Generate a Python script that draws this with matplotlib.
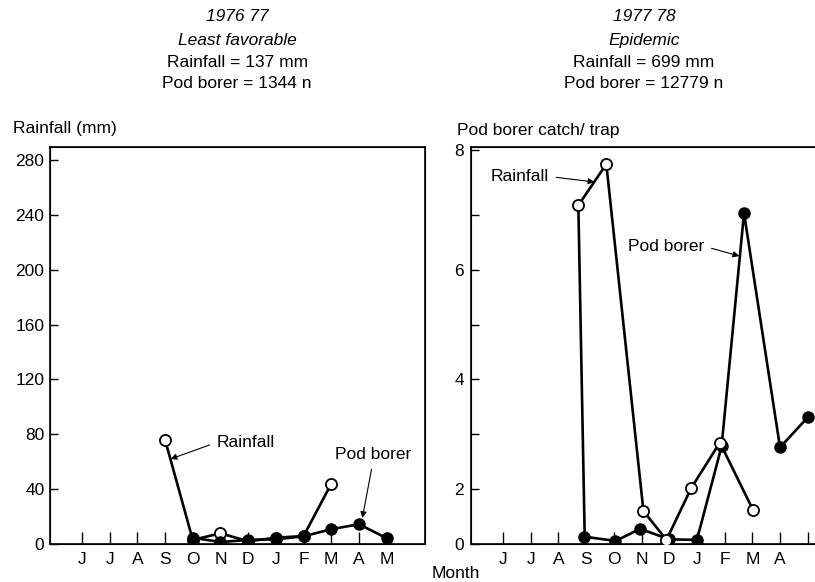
import numpy as np
import matplotlib
matplotlib.use('Agg')
import matplotlib.pyplot as plt

plt.rcParams['font.family'] = ['Liberation Sans', 'DejaVu Sans']
plt.rcParams['font.size'] = 12.5

months = ['J', 'J', 'A', 'S', 'O', 'N', 'D', 'J', 'F', 'M', 'A', 'M']

# 1976-77, least favorable (x = month index from June)
rain_76_idx = [3, 4, 5, 6, 7, 8, 9]
rain_76 = [76, 3, 7.8, 2, 4.6, 5.8, 44]
pod_76_idx = [4, 5, 6, 7, 8, 9, 10, 11]
pod_76 = [0.23, 0.07, 0.15, 0.17, 0.28, 0.54, 0.72, 0.21]

# 1977-78, epidemic (points are drawn a little off the month ticks in the original)
rain_77_idx = [2.95, 2.72, 3.73, 5.07, 5.9, 6.8, 7.83, 9.02]
rain_77 = [5, 247, 277, 24, 3, 41, 74, 25]
pod_77_idx = [2.92, 4.06, 4.95, 6.01, 7.0, 7.89, 8.7, 10, 11]
pod_77 = [0.27, 0.11, 0.55, 0.17, 0.15, 2.78, 6.95, 2.76, 3.31]

# the printed catch/trap axis is not linear against the mm axis
catch_knots = [0, 2, 4, 6, 8, 10]
mm_knots = [0, 40, 120, 200, 287, 374]

headers_76 = ['1976 77', 'Least favorable', 'Rainfall = 137 mm', 'Pod borer = 1344 n']
headers_77 = ['1977 78', 'Epidemic', 'Rainfall = 699 mm', 'Pod borer = 12779 n']


def catch_fwd(v):
    return np.interp(v, catch_knots, mm_knots)


def catch_inv(v):
    return np.interp(v, mm_knots, catch_knots)


MM_TOP = 289.5
XLIM = (-1.155, 12.38)
open_style = dict(color='black', marker='o', mfc='white', mec='black', ms=8, mew=1.3, lw=1.9)
fill_style = dict(color='black', marker='o', mfc='black', mec='black', ms=8, mew=1.0, lw=1.9)
arrow = dict(arrowstyle='-|>', color='black', lw=0.8, mutation_scale=9, shrinkA=3, shrinkB=0)

fig = plt.figure(figsize=(8.15, 5.82), dpi=100)

# ---- left panel ----
ax1 = fig.add_axes([0.0613, 0.0653, 0.4601, 0.6821])
ax1.plot(rain_76_idx, rain_76, zorder=3, **open_style)
ax1.set_xlim(*XLIM)
ax1.set_ylim(0, MM_TOP)
ax1.set_yticks(range(0, 281, 40))
ax1.set_xticks(range(12))
ax1.set_xticklabels(months)
ax1.tick_params(axis='x', direction='in', length=9, width=1.0, pad=6)
ax1.tick_params(axis='y', direction='in', length=6, width=1.0, pad=4)
for s in ax1.spines.values():
    s.set_linewidth(1.2)

tw1 = ax1.twinx()
tw1.set_yscale('function', functions=(catch_fwd, catch_inv))
tw1.set_ylim(0, catch_inv(MM_TOP))
tw1.plot(pod_76_idx, pod_76, zorder=3, **fill_style)
tw1.yaxis.set_visible(False)

ax1.annotate('Rainfall', xy=(3.2, 62), xytext=(4.85, 74), ha='left', va='center',
             arrowprops=dict(relpos=(0, 0.5), **arrow))
ax1.annotate('Pod borer', xy=(10.12, 19), xytext=(10.5, 65), ha='center', va='center',
             arrowprops=dict(relpos=(0.5, 0), **arrow))

# ---- right panel ----
ax2 = fig.add_axes([0.5779, 0.0653, 0.4601, 0.6821])
ax2.set_yscale('function', functions=(catch_fwd, catch_inv))
ax2.set_ylim(0, catch_inv(MM_TOP))
ax2.plot(pod_77_idx, pod_77, zorder=3, **fill_style)
ax2.set_xlim(*XLIM)
ax2.set_yticks([0, 2, 4, 6, 8])
ax2.set_yticklabels(['0', '2', '4', '6', '8'])
ax2.yaxis.set_minor_locator(matplotlib.ticker.NullLocator())
ax2.set_xticks(range(12))
ax2.set_xticklabels(months[:11] + [''])
ax2.tick_params(axis='x', direction='in', length=9, width=1.0, pad=6)
ax2.tick_params(axis='y', direction='in', length=6, width=1.0, pad=5)
for s in ax2.spines.values():
    s.set_linewidth(1.2)

tw2 = ax2.twinx()
tw2.set_ylim(0, MM_TOP)
# first rainfall vertex sits under the September pod borer dot, so no marker there
tw2.plot(rain_77_idx, rain_77, zorder=3, markevery=list(range(1, len(rain_77))), **open_style)
tw2.yaxis.tick_left()
tw2.set_yticks([80, 160, 240])
tw2.set_yticklabels([])
tw2.tick_params(axis='y', direction='in', length=6, width=1.0)

tw2.annotate('Rainfall', xy=(3.3, 264), xytext=(-0.43, 268), ha='left', va='center',
             arrowprops=dict(relpos=(1, 0.5), **arrow))
tw2.annotate('Pod borer', xy=(8.53, 210), xytext=(4.53, 217), ha='left', va='center',
             arrowprops=dict(relpos=(1, 0.5), **arrow))

# ---- text around the panels ----
line_y = [0.971, 0.931, 0.893, 0.856]
for i, (a, b) in enumerate(zip(headers_76, headers_77)):
    st = 'italic' if i < 2 else 'normal'
    fig.text(0.291, line_y[i], a, ha='center', va='center', style=st)
    fig.text(0.790, line_y[i], b, ha='center', va='center', style=st)

fig.text(13 / 815, 1 - 128 / 582, 'Rainfall (mm)', ha='left', va='center')
fig.text(457 / 815, 1 - 130 / 582, 'Pod borer catch/ trap', ha='left', va='center')
fig.text(456 / 815, 1 - 573 / 582, 'Month', ha='center', va='center')

fig.savefig('out.png', dpi=100)
